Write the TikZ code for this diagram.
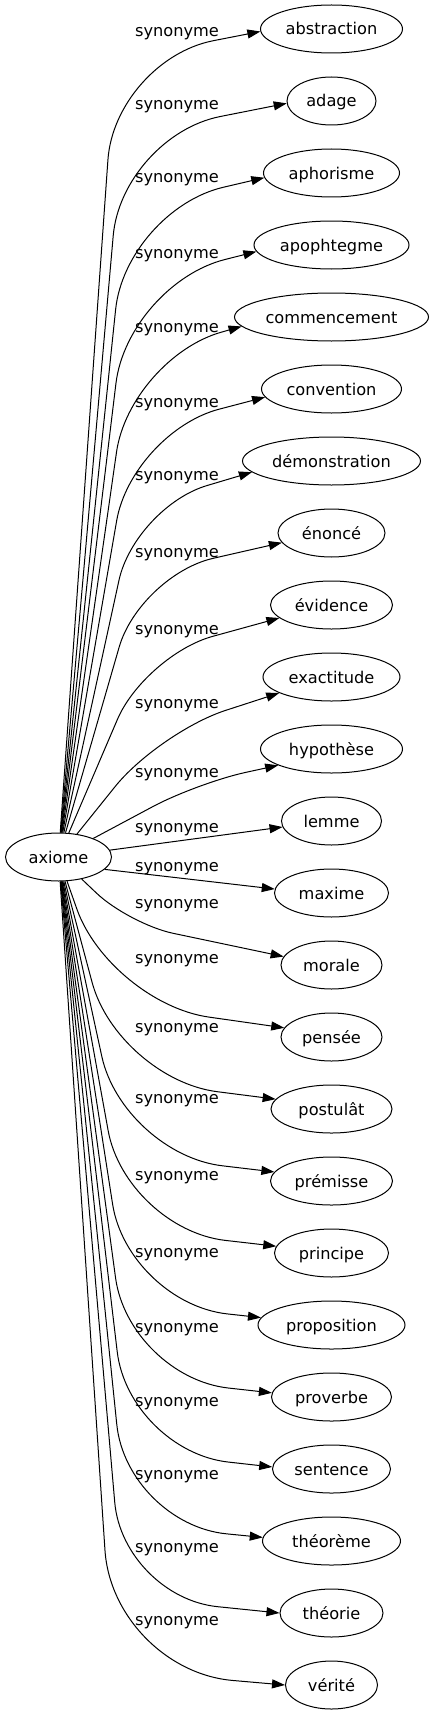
\documentclass[tikz,border=0pt]{standalone}
\usepackage{fontspec}
\setmainfont{DejaVu Sans}
\usetikzlibrary{arrows.meta,shapes.geometric}

\begin{document}
\begin{tikzpicture}[x=1pt, y=1pt,
  font=\fontsize{16.2}{19}\selectfont,
  word/.style={draw, ellipse, line width=1pt, inner xsep=0pt, minimum height=48pt, text height=12pt, text depth=0pt},
  rel/.style={anchor=base, inner sep=0pt},
  syn/.style={-{Triangle[length=13pt,width=9pt]}, line width=1pt}]
  \useasboundingbox (0,0) rectangle (433,-1715);

  \node[word, minimum width=106pt] (axiome) at (58.5,-857) {axiome};

  \node[word, minimum width=142pt] (abstraction) at (331.5,-29) {abstraction};
  \node[word, minimum width=89pt] (adage) at (331.5,-101) {adage};
  \node[word, minimum width=136pt] (aphorisme) at (331.5,-173) {aphorisme};
  \node[word, minimum width=155pt] (apophtegme) at (331.5,-245) {apophtegme};
  \node[word, minimum width=194pt] (commencement) at (331.5,-317) {commencement};
  \node[word, minimum width=140pt] (convention) at (331.5,-389) {convention};
  \node[word, minimum width=178pt] (demonstration) at (331.5,-461) {démonstration};
  \node[word, minimum width=107pt] (enonce) at (331.5,-533) {énoncé};
  \node[word, minimum width=122pt] (evidence) at (331.5,-605) {évidence};
  \node[word, minimum width=137pt] (exactitude) at (331.5,-677) {exactitude};
  \node[word, minimum width=142pt] (hypothese) at (331.5,-749) {hypothèse};
  \node[word, minimum width=100pt] (lemme) at (331.5,-821) {lemme};
  \node[word, minimum width=114pt] (maxime) at (331.5,-893) {maxime};
  \node[word, minimum width=101pt] (morale) at (331.5,-965) {morale};
  \node[word, minimum width=101pt] (pensee) at (331.5,-1037) {pensée};
  \node[word, minimum width=121pt] (postulat) at (331.5,-1109) {postulât};
  \node[word, minimum width=122pt] (premisse) at (331.5,-1181) {prémisse};
  \node[word, minimum width=114pt] (principe) at (331.5,-1253) {principe};
  \node[word, minimum width=147pt] (proposition) at (331.5,-1325) {proposition};
  \node[word, minimum width=120pt] (proverbe) at (331.5,-1397) {proverbe};
  \node[word, minimum width=118pt] (sentence) at (331.5,-1469) {sentence};
  \node[word, minimum width=138pt] (theoreme) at (331.5,-1541) {théorème};
  \node[word, minimum width=103pt] (theorie) at (331.5,-1613) {théorie};
  \node[word, minimum width=92pt] (verite) at (331.5,-1685) {vérité};

  % edge labels, on their baselines
  \node[rel] (s-abstraction) at (177,-37) {synonyme};
  \node[rel] (s-adage) at (177,-110) {synonyme};
  \node[rel] (s-aphorisme) at (177,-183) {synonyme};
  \node[rel] (s-apophtegme) at (177,-258) {synonyme};
  \node[rel] (s-commencement) at (177,-332) {synonyme};
  \node[rel] (s-convention) at (177,-407) {synonyme};
  \node[rel] (s-demonstration) at (177,-480) {synonyme};
  \node[rel] (s-enonce) at (177,-557) {synonyme};
  \node[rel] (s-evidence) at (177,-634) {synonyme};
  \node[rel] (s-exactitude) at (177,-708) {synonyme};
  \node[rel] (s-hypothese) at (177,-777) {synonyme};
  \node[rel] (s-lemme) at (177,-832) {synonyme};
  \node[rel] (s-maxime) at (177,-871) {synonyme};
  \node[rel] (s-morale) at (177,-908) {synonyme};
  \node[rel] (s-pensee) at (177,-963) {synonyme};
  \node[rel] (s-postulat) at (177,-1032) {synonyme};
  \node[rel] (s-premisse) at (177,-1103) {synonyme};
  \node[rel] (s-principe) at (177,-1180) {synonyme};
  \node[rel] (s-proposition) at (177,-1257) {synonyme};
  \node[rel] (s-proverbe) at (177,-1332) {synonyme};
  \node[rel] (s-sentence) at (177,-1406) {synonyme};
  \node[rel] (s-theoreme) at (177,-1479) {synonyme};
  \node[rel] (s-theorie) at (177,-1552) {synonyme};
  \node[rel] (s-verite) at (177,-1625) {synonyme};

  % edges going up
  \draw[syn, rounded corners=100pt] (axiome) -- (115,-60) -- (abstraction.182);
  \draw[syn, rounded corners=100pt] (axiome) -- (122,-136) -- (adage.183);
  \draw[syn, rounded corners=100pt] (axiome) -- (126,-210) -- (aphorisme.184);
  \draw[syn, rounded corners=100pt] (axiome) -- (128,-284) -- (apophtegme.185);
  \draw[syn, rounded corners=95pt] (axiome) -- (130,-358) -- (commencement.186);
  \draw[syn, rounded corners=90pt] (axiome) -- (132,-432) -- (convention.187);
  \draw[syn, rounded corners=75pt] (axiome) -- (135,-507) -- (demonstration.188);
  \draw[syn, rounded corners=75pt] (axiome) -- (140,-575) -- (enonce.191);
  \draw[syn, rounded corners=70pt] (axiome) -- (145,-655) -- (evidence.194);
  \draw[syn, rounded corners=70pt] (axiome) -- (159,-732) -- (exactitude.197);
  \draw[syn, rounded corners=50pt] (axiome) -- (197,-783) -- (hypothese.197);
  % nearly straight ones
  \draw[syn] (axiome) -- (lemme.187);
  \draw[syn] (axiome.-15) -- (maxime.176);
  % edges going down
  \draw[syn, rounded corners=45pt] (axiome) -- (129,-924) -- (morale.170);
  \draw[syn, rounded corners=100pt] (axiome) -- (110,-1003) -- (pensee.169);
  \draw[syn, rounded corners=100pt] (axiome) -- (118,-1079) -- (postulat.170);
  \draw[syn, rounded corners=100pt] (axiome) -- (123,-1154) -- (premisse.171);
  \draw[syn, rounded corners=100pt] (axiome) -- (126,-1229) -- (principe.173);
  \draw[syn, rounded corners=100pt] (axiome) -- (128,-1303) -- (proposition.174);
  \draw[syn, rounded corners=100pt] (axiome) -- (129,-1377) -- (proverbe.176);
  \draw[syn, rounded corners=100pt] (axiome) -- (129,-1451) -- (sentence.178);
  \draw[syn, rounded corners=100pt] (axiome) -- (127,-1524) -- (theoreme.177);
  \draw[syn, rounded corners=95pt] (axiome) -- (123,-1597) -- (theorie.180);
  \draw[syn, rounded corners=120pt] (axiome) -- (113,-1670) -- (verite.180);
\end{tikzpicture}
\end{document}
